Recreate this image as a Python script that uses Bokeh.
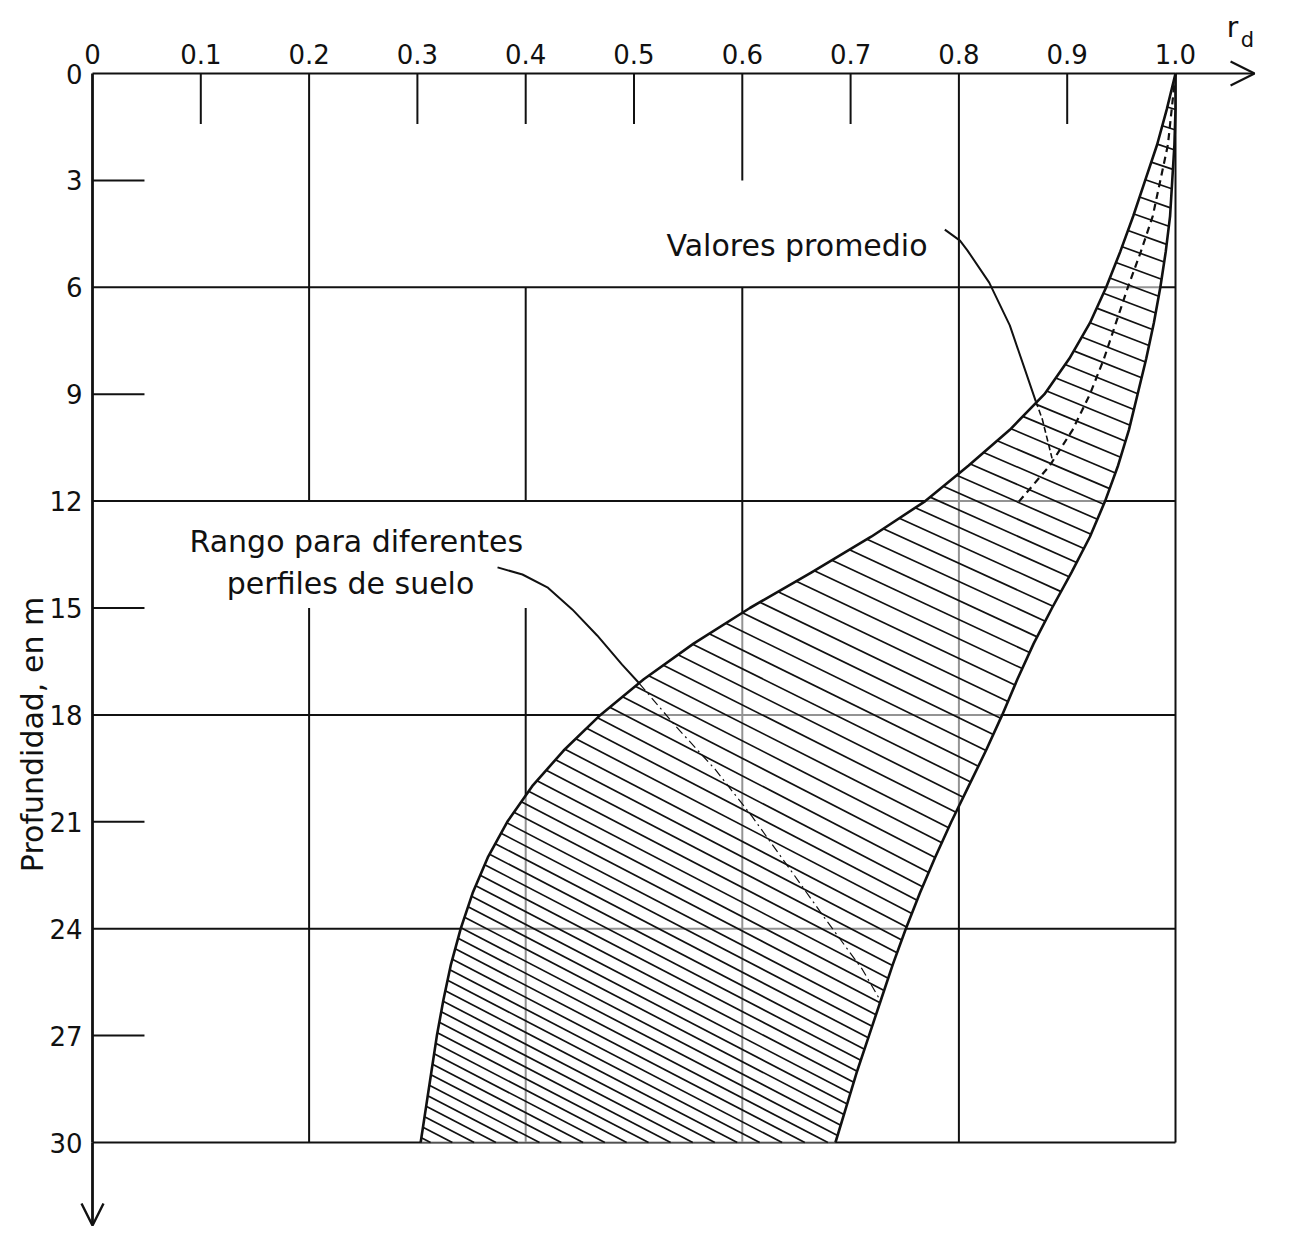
import numpy as np
from bokeh.plotting import figure
from bokeh.models import Range1d, FixedTicker, PrintfTickFormatter, Arrow, OpenHead
from bokeh.core.properties import value
from bokeh.embed import file_html
from bokeh.resources import INLINE

# ---------------- data ----------------
DEPTH = list(range(31))  # m
RD_MIN = [1.000, 0.992, 0.983, 0.972, 0.961, 0.949, 0.936, 0.921, 0.902, 0.879, 0.847,
          0.809, 0.769, 0.719, 0.664, 0.607, 0.555, 0.509, 0.469, 0.435, 0.406,
          0.383, 0.365, 0.351, 0.340, 0.331, 0.324, 0.318, 0.313, 0.308, 0.303]
RD_MAX = [1.000, 1.000, 0.999, 0.997, 0.995, 0.991, 0.986, 0.980, 0.973, 0.965, 0.957,
          0.947, 0.935, 0.921, 0.904, 0.886, 0.869, 0.854, 0.840, 0.825, 0.809,
          0.793, 0.778, 0.764, 0.751, 0.739, 0.728, 0.717, 0.706, 0.696, 0.686]
AVG_DEPTH = [0, 2, 4, 5, 6, 7, 8, 9, 10, 11, 12.1]
AVG_RD = [1.000, 0.993, 0.979, 0.968, 0.956, 0.945, 0.934, 0.921, 0.905, 0.884, 0.853]

# leader lines of the two notes
LEAD1_RD = [0.787, 0.801, 0.808, 0.828, 0.847, 0.861, 0.871]
LEAD1_D = [4.38, 4.69, 4.97, 5.87, 7.07, 8.31, 9.20]
LEAD1_IN_RD = [0.871, 0.877, 0.886]
LEAD1_IN_D = [9.20, 9.70, 10.80]
LEAD2_RD = [0.374, 0.397, 0.420, 0.443, 0.466, 0.489, 0.505]
LEAD2_D = [13.86, 14.06, 14.42, 15.04, 15.77, 16.59, 17.12]
LEAD2_IN_RD = [0.505, 0.538, 0.575, 0.609, 0.648, 0.677, 0.711, 0.727]
LEAD2_IN_D = [17.12, 18.30, 19.53, 20.85, 22.50, 23.74, 25.15, 25.99]

X_TICKS = [0, 0.1, 0.2, 0.3, 0.4, 0.5, 0.6, 0.7, 0.8, 0.9, 1.0]
X_TICK_LABELS = ["0", "0.1", "0.2", "0.3", "0.4", "0.5", "0.6", "0.7", "0.8", "0.9", "1.0"]
Y_TICKS = [0, 3, 6, 9, 12, 15, 18, 21, 24, 27, 30]
Y_TICK_LABELS = ["0", "3", "6", "9", "12", "15", "18", "21", "24", "27", "30"]

NOTE_AVG = "Valores promedio"
NOTE_RANGE_1 = "Rango para diferentes"
NOTE_RANGE_2 = "perfiles de suelo"
Y_TITLE = "Profundidad, en m"
X_TITLE_MAIN = "r"
X_TITLE_SUB = "d"

# ---------------- layout ----------------
W, H = 1286, 1229
PX_PER_RD = 1083.0
PX_PER_M = 1069.0 / 30.0
X0_PX, Y0_PX = 92.0, 73.0
x_range = Range1d(-X0_PX / PX_PER_RD, (W - X0_PX) / PX_PER_RD)
y_range = Range1d((H - Y0_PX) / PX_PER_M, -Y0_PX / PX_PER_M)

FONT = "DejaVu Sans"
INK = "#111111"

p = figure(width=W, height=H, x_range=x_range, y_range=y_range,
           x_axis_location="above", min_border=0, toolbar_location=None,
           output_backend="svg")
p.outline_line_color = None
p.grid.visible = False
p.background_fill_color = "white"
p.border_fill_color = "white"

# ---------------- axes at fixed data locations ----------------
xa = p.xaxis[0]
xa.fixed_location = 0
xa.ticker = FixedTicker(ticks=X_TICKS)
xa.formatter = PrintfTickFormatter(format="%.1f")
xa.major_label_overrides = dict(zip(X_TICKS, X_TICK_LABELS))
xa.major_tick_line_color = None
xa.minor_tick_line_color = None
xa.axis_line_width = 2.2
xa.axis_line_color = INK
xa.bounds = (0, 1.0)
xa.major_label_standoff = 4
xa.major_label_text_font = FONT
xa.major_label_text_font_size = "26px"
xa.major_label_text_color = INK

ya = p.yaxis[0]
ya.fixed_location = 0
ya.ticker = FixedTicker(ticks=Y_TICKS)
ya.major_label_overrides = dict(zip(Y_TICKS, Y_TICK_LABELS))
ya.major_tick_line_color = None
ya.minor_tick_line_color = None
ya.axis_line_width = 2.8
ya.axis_line_color = INK
ya.bounds = (0, 30)
ya.major_label_standoff = 4
ya.major_label_text_font = FONT
ya.major_label_text_font_size = "26px"
ya.major_label_text_color = INK

X_TIP = 1.073
Y_TIP = 32.33
p.add_layout(Arrow(x_start=1.0, y_start=0, x_end=X_TIP, y_end=0, line_width=2.2,
                   line_color=INK, end=OpenHead(size=24, line_width=2.2, line_color=INK)))
p.add_layout(Arrow(x_start=0, y_start=30, x_end=0, y_end=Y_TIP, line_width=2.8,
                   line_color=INK, end=OpenHead(size=22, line_width=2.4, line_color=INK)))

# ---------------- grid (as drawn in the original) ----------------
TICK_X_LEN = 1.42   # m, short marks under the odd x ticks
TICK_Y_LEN = 0.048  # rd, short marks at the odd y ticks
v_x, v_y0, v_y1 = [], [], []
for t in X_TICKS[1:]:
    if t in (0.1, 0.3, 0.5, 0.7, 0.9):
        segs = [(0, TICK_X_LEN)]
    elif t == 0.2:
        segs = [(0, 12), (15, 30)]
    elif t == 0.4:
        segs = [(0, TICK_X_LEN), (6, 12), (15, 30)]
    elif t == 0.6:
        segs = [(0, 3), (6, 30)]
    else:
        segs = [(0, 30)]
    for a, b in segs:
        v_x.append(t); v_y0.append(a); v_y1.append(b)
p.segment(x0=v_x, y0=v_y0, x1=v_x, y1=v_y1, line_color=INK, line_width=2.0)

h_y, h_x0, h_x1 = [], [], []
for t in Y_TICKS[1:]:
    h_y.append(t); h_x0.append(0)
    h_x1.append(1.0 if t % 6 == 0 else TICK_Y_LEN)
p.segment(x0=h_x0, y0=h_y, x1=h_x1, y1=h_y, line_color=INK, line_width=2.0)

# ---------------- range band ----------------
p.harea(x1=RD_MIN, x2=RD_MAX, y=DEPTH, fill_color="white", fill_alpha=0.55)

d_arr = np.array(DEPTH, float)
lo = np.array(RD_MIN)
hi = np.array(RD_MAX)
Dfine = np.linspace(0, 30, 6001)
hiF = np.interp(Dfine, d_arr, hi)
hx0, hy0, hx1, hy1 = [], [], [], []
d = 0.4
while d < 29.95:
    xl = float(np.interp(d, d_arr, lo))
    slope = 0.30 + 0.22 * min(d / 18.0, 1.0)
    k = slope * PX_PER_RD / PX_PER_M
    f = Dfine - d - k * (hiF - xl)
    idx = np.where((Dfine >= d) & (f >= 0))[0]
    if len(idx):
        Dr, xr = float(Dfine[idx[0]]), float(hiF[idx[0]])
    else:
        Dr, xr = 30.0, xl + (30.0 - d) / k
    hx0.append(xl); hy0.append(d); hx1.append(xr); hy1.append(Dr)
    step = 10.5 + 9.0 * max(0.0, (12.0 - d) / 12.0)
    d += step / PX_PER_M
p.segment(x0=hx0, y0=hy0, x1=hx1, y1=hy1, line_color=INK, line_width=1.7)

p.line(RD_MIN, DEPTH, line_color=INK, line_width=2.6, line_join="round")
p.line(RD_MAX, DEPTH, line_color=INK, line_width=2.6, line_join="round")
p.line(AVG_RD, AVG_DEPTH, line_color=INK, line_width=2.2, line_dash="7 5")

# ---------------- notes ----------------
p.line(LEAD1_RD, LEAD1_D, line_color=INK, line_width=2.0)
p.line(LEAD1_IN_RD, LEAD1_IN_D, line_color=INK, line_width=1.6, line_dash="6 3")
p.line(LEAD2_RD, LEAD2_D, line_color=INK, line_width=2.0)
p.line(LEAD2_IN_RD, LEAD2_IN_D, line_color=INK, line_width=1.2, line_dash="9 4 2 4")

def put(txt, x, y, size, align="left", angle=0.0):
    p.text(x=[x], y=[y], text=[txt], text_font=value(FONT), text_font_size=size,
           text_color=INK, text_align=align, text_baseline="middle", angle=angle)

put(NOTE_AVG, 0.530, 4.83, "30px")
put(NOTE_RANGE_1, 0.0896, 13.13, "30px")
put(NOTE_RANGE_2, 0.124, 14.31, "30px")
put(Y_TITLE, -0.055, 18.55, "30px", align="center", angle=np.pi / 2)
put(X_TITLE_MAIN, 1.0526, -1.30, "28px", align="center")
put(X_TITLE_SUB, 1.0665, -0.95, "21px", align="center")

open("out.html", "w").write(file_html(p, INLINE))
